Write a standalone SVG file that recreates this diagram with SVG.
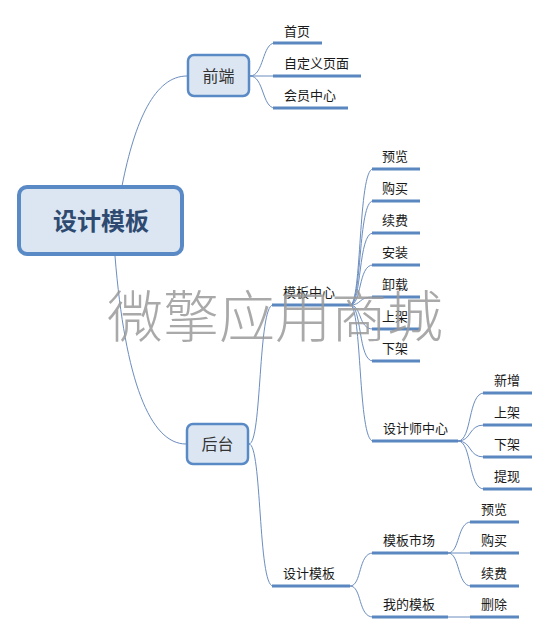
<svg xmlns="http://www.w3.org/2000/svg" width="550" height="634" viewBox="0 0 550 634">
<style>
.c{fill:none;stroke:#6b8dbf;stroke-width:1}
.u{stroke:#5b87c0;stroke-width:3;stroke-linecap:butt}
.t{font-family:"Noto Sans CJK SC","Microsoft YaHei",sans-serif;font-size:13px;fill:#1a1a1a}
.box{fill:#dce6f2;stroke:#5a8ac6;stroke-width:2.5}
.bt{font-family:"Noto Sans CJK SC",sans-serif;font-size:16px;fill:#333;text-anchor:middle}
</style>
<rect width="550" height="634" fill="#fff"/>
<g id="connectors">
<path class="c" d="M122,186 C135,120 155,76 187,76"/>
<path class="c" d="M115,256 C125,380 150,444 186,444"/>
<path class="c" d="M250,76 C264,76 262,43 275,43"/>
<path class="c" d="M250,76 L275,76"/>
<path class="c" d="M250,76 C264,76 262,108 275,108"/>
<path class="c" d="M249,444 C262,444 258,305 273,305"/>
<path class="c" d="M249,444 C262,444 258,586 273,586"/>
<path class="c" d="M350,305 C362,305 358,169 373,169"/>
<path class="c" d="M350,305 C362,305 358,201 373,201"/>
<path class="c" d="M350,305 C362,305 358,233 373,233"/>
<path class="c" d="M350,305 C362,305 358,265 373,265"/>
<path class="c" d="M350,305 C362,305 358,297 373,297"/>
<path class="c" d="M350,305 C362,305 358,329 373,329"/>
<path class="c" d="M350,305 C362,305 358,361 373,361"/>
<path class="c" d="M350,305 C362,305 358,441 373,441"/>
<path class="c" d="M458,441 C472,441 468,393 484,393"/>
<path class="c" d="M458,441 C472,441 468,425 484,425"/>
<path class="c" d="M458,441 C472,441 468,457 484,457"/>
<path class="c" d="M458,441 C472,441 468,489 484,489"/>
<path class="c" d="M350,586 C362,586 358,553 373,553"/>
<path class="c" d="M350,586 C362,586 358,617 373,617"/>
<path class="c" d="M448,553 C460,553 457,522 471,522"/>
<path class="c" d="M448,553 L471,553"/>
<path class="c" d="M448,553 C460,553 457,586 471,586"/>
<path class="c" d="M448,617 L471,617"/>
</g>
<g id="root">
<rect x="19" y="187" width="163" height="67" rx="8" fill="#dce6f2" stroke="#5a8ac6" stroke-width="4"/>
<text x="101" y="230" text-anchor="middle" font-family="Noto Sans CJK SC,sans-serif" font-size="24" font-weight="bold" fill="#2e4a70">设计模板</text>
</g>
<g id="qianduan">
<rect class="box" x="188" y="55" width="61" height="41" rx="6"/>
<text class="bt" x="218.5" y="82">前端</text>
</g>
<g id="houtai">
<rect class="box" x="187" y="424" width="61" height="40" rx="6"/>
<text class="bt" x="217.5" y="450">后台</text>
</g>
<g id="n-shouye"><line class="u" x1="273" y1="43" x2="322" y2="43"/><text class="t" x="284" y="36">首页</text></g>
<g id="n-zidingyi"><line class="u" x1="273" y1="76" x2="361" y2="76"/><text class="t" x="284" y="68">自定义页面</text></g>
<g id="n-huiyuan"><line class="u" x1="273" y1="108" x2="348" y2="108"/><text class="t" x="284" y="100">会员中心</text></g>
<g id="n-mbzx"><line class="u" x1="272" y1="305" x2="350" y2="305"/><text class="t" x="283" y="297">模板中心</text></g>
<g id="n-sjmb"><line class="u" x1="272" y1="586" x2="350" y2="586"/><text class="t" x="283" y="578">设计模板</text></g>
<g id="n-yulan1"><line class="u" x1="372" y1="169" x2="420" y2="169"/><text class="t" x="382" y="161">预览</text></g>
<g id="n-goumai1"><line class="u" x1="372" y1="201" x2="420" y2="201"/><text class="t" x="382" y="193">购买</text></g>
<g id="n-xufei1"><line class="u" x1="372" y1="233" x2="420" y2="233"/><text class="t" x="382" y="225">续费</text></g>
<g id="n-anzhuang"><line class="u" x1="372" y1="265" x2="420" y2="265"/><text class="t" x="382" y="257">安装</text></g>
<g id="n-xiezai"><line class="u" x1="372" y1="297" x2="420" y2="297"/><text class="t" x="382" y="289">卸载</text></g>
<g id="n-shangjia1"><line class="u" x1="372" y1="329" x2="420" y2="329"/><text class="t" x="382" y="321">上架</text></g>
<g id="n-xiajia1"><line class="u" x1="372" y1="361" x2="420" y2="361"/><text class="t" x="382" y="353">下架</text></g>
<g id="n-sjszx"><line class="u" x1="372" y1="441" x2="458" y2="441"/><text class="t" x="383" y="433">设计师中心</text></g>
<g id="n-xinzeng"><line class="u" x1="483" y1="393" x2="532" y2="393"/><text class="t" x="494" y="385">新增</text></g>
<g id="n-shangjia2"><line class="u" x1="483" y1="425" x2="532" y2="425"/><text class="t" x="494" y="417">上架</text></g>
<g id="n-xiajia2"><line class="u" x1="483" y1="457" x2="532" y2="457"/><text class="t" x="494" y="449">下架</text></g>
<g id="n-tixian"><line class="u" x1="483" y1="489" x2="532" y2="489"/><text class="t" x="494" y="481">提现</text></g>
<g id="n-mbsc"><line class="u" x1="372" y1="553" x2="448" y2="553"/><text class="t" x="383" y="545">模板市场</text></g>
<g id="n-wdmb"><line class="u" x1="372" y1="617" x2="448" y2="617"/><text class="t" x="383" y="609">我的模板</text></g>
<g id="n-yulan2"><line class="u" x1="470" y1="522" x2="519" y2="522"/><text class="t" x="481" y="514">预览</text></g>
<g id="n-goumai2"><line class="u" x1="470" y1="553" x2="519" y2="553"/><text class="t" x="481" y="545">购买</text></g>
<g id="n-xufei2"><line class="u" x1="470" y1="586" x2="519" y2="586"/><text class="t" x="481" y="578">续费</text></g>
<g id="n-shanchu"><line class="u" x1="470" y1="617" x2="519" y2="617"/><text class="t" x="481" y="609">删除</text></g>
<text id="watermark" x="107" y="337" font-family="Noto Sans CJK SC,sans-serif" font-size="56" font-weight="300" fill="#9a9a9a" fill-opacity="0.85">微擎应用商城</text>
</svg>
